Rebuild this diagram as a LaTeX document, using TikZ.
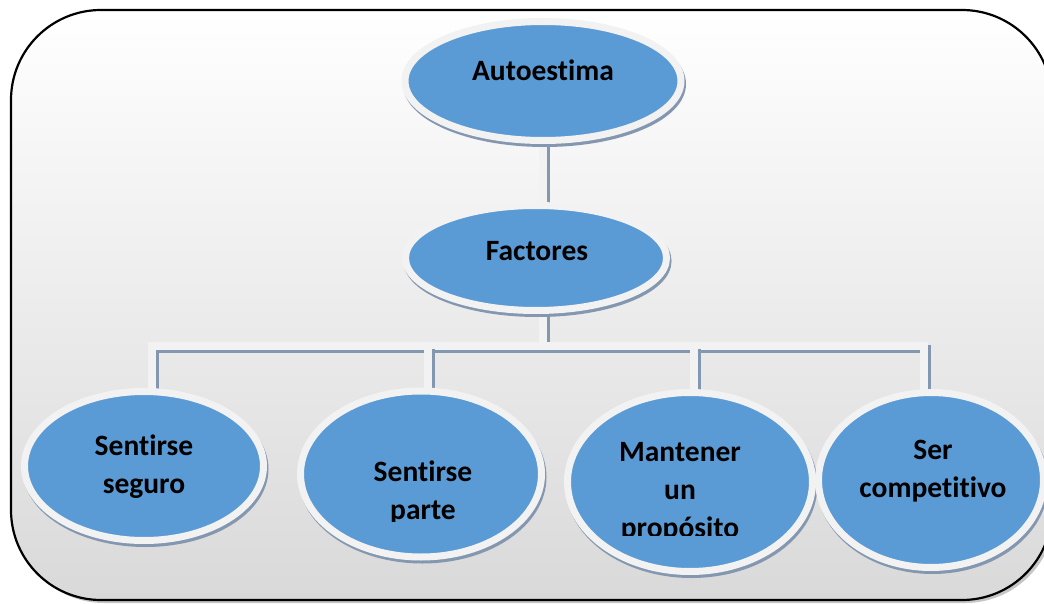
\documentclass[tikz,border=0pt]{standalone}
\usepackage{fontspec}
\setmainfont{Carlito}[RawFeature=-liga]
\usetikzlibrary{shapes.geometric,shadows}
\definecolor{blueF}{HTML}{5B9BD5}
\definecolor{borderW}{HTML}{F2F2F2}
\definecolor{shad}{HTML}{8497B0}
\definecolor{frameBot}{HTML}{D9D9D9}
\pgfdeclarelayer{framelayer}
\pgfdeclarelayer{connlayer}
\pgfsetlayers{framelayer,connlayer,main}
\tikzset{
  oval/.style={ellipse, fill=blueF, draw=borderW, line width=7pt, inner sep=0pt,
    drop shadow={shadow xshift=1.5pt, shadow yshift=-3pt, fill=shad, draw=shad, line width=7pt, opacity=1}},
  conn/.style={line width=8pt, draw=borderW,
    preaction={draw=shad, line width=8pt, transform canvas={shift={(2.5pt,-2.5pt)}}}},
  txt/.style={font=\fontsize{29.5}{38}\selectfont\bfseries, align=center, inner sep=0pt, anchor=base}
}
\begin{document}
\begin{tikzpicture}[x=1pt,y=-1pt]
\useasboundingbox (0,0) rectangle (1044,604);
% frame
\begin{pgfonlayer}{framelayer}
  \clip (0,0) rectangle (1044,604);
  \fill[gray!45, rounded corners=90pt] (14,14) rectangle (1055,603);
  \shade[top color=white, bottom color=frameBot, rounded corners=90pt] (11,10) rectangle (1052,600);
  \draw[black, line width=2.2pt, rounded corners=90pt] (11,10) rectangle (1052,600);
\end{pgfonlayer}
% ellipses
\node[oval, minimum width=276pt, minimum height=119pt] (a) at (543,81) {};
\node[oval, minimum width=261pt, minimum height=105pt] (f) at (536,258) {};
\node[oval, minimum width=239pt, minimum height=149pt] (s1) at (144,466) {};
\node[oval, minimum width=241pt, minimum height=166pt] (s2) at (421,474) {};
\node[oval, minimum width=245pt, minimum height=179pt] (s3) at (690,482) {};
\node[oval, minimum width=225pt, minimum height=175pt] (s4) at (931,480) {};
% texts (anchor = baseline of the last line)
\node[txt] (ta) at (543,81) {Autoestima};
\node[txt] (tf) at (537,261) {Factores};
\node[txt] (t1) at (144,493) {Sentirse\\seguro};
\begin{scope}
  \clip (300,380) rectangle (550,521);
  \node[txt] (t2) at (423,519) {Sentirse\\parte};
\end{scope}
\begin{scope}
  \clip (560,380) rectangle (815,535);
  \node[txt] (t3) at (680,537) {Mantener\\un\\propósito};
\end{scope}
\node[txt] (t4) at (933,497) {Ser\\competitivo};
% connectors
\coordinate (d1) at (152,346);
\coordinate (d2) at (428,346);
\coordinate (d3) at (694,346);
\coordinate (d4) at (924,346);
\coordinate (bus) at (543,346);
\begin{pgfonlayer}{connlayer}
  \draw[conn] (a.center) -- (a.center |- f.center);
  \draw[conn] (bus |- f.center) -- (bus);
  \draw[conn] (d1 |- s1.center) -- (d1) -- (d4) -- (d4 |- s4.center);
  \draw[conn] (d2) -- (d2 |- s2.center);
  \draw[conn] (d3) -- (d3 |- s3.center);
\end{pgfonlayer}
\end{tikzpicture}
\end{document}
